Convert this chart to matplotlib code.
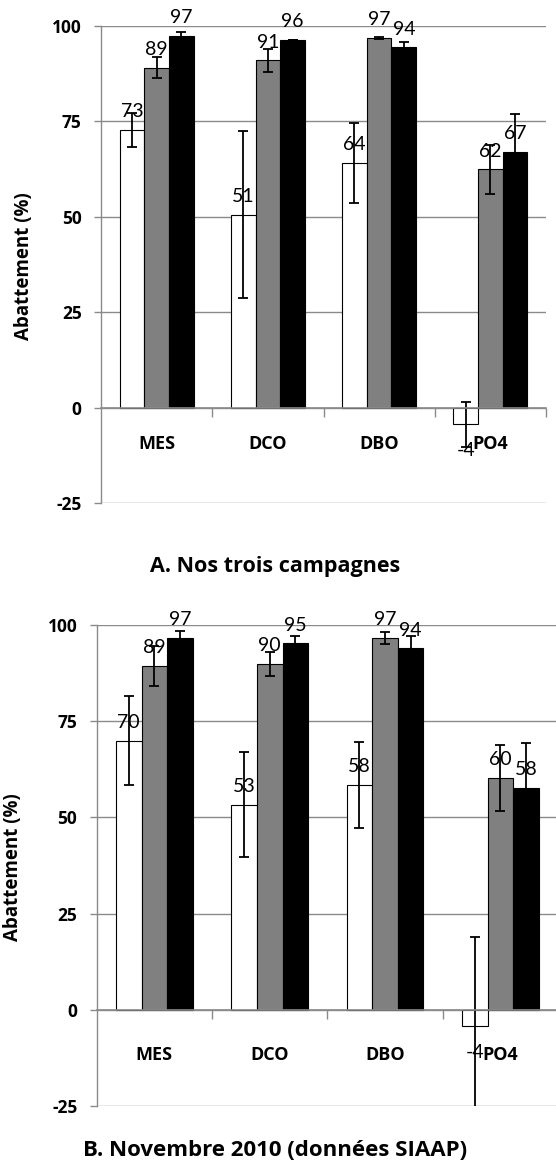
import matplotlib
matplotlib.use("Agg")
import matplotlib.pyplot as plt
import numpy as np

plt.rcParams['font.family'] = ['Lato', 'DejaVu Sans']
BOLD = ['Open Sans', 'DejaVu Sans']

categories = ["MES", "DCO", "DBO", "PO4"]

# A. Nos trois campagnes
a_white = [72.7, 50.6, 64.1, -4.4]
a_white_err = [4.5, 21.9, 10.6, 5.8]
a_gray = [89.1, 91.0, 96.8, 62.4]
a_gray_err = [2.8, 3.0, 0.3, 6.3]
a_black = [97.4, 96.4, 94.4, 67.0]
a_black_err = [1.0, 0.0, 1.4, 10.0]

# B. Novembre 2010 (donnees SIAAP)
b_white = [69.9, 53.3, 58.4, -4.1]
b_white_err = [11.6, 13.6, 11.2, 23.0]
b_gray = [89.4, 89.9, 96.6, 60.2]
b_gray_err = [5.2, 3.2, 1.5, 8.6]
b_black = [96.7, 95.2, 93.9, 57.7]
b_black_err = [1.8, 2.0, 3.3, 11.7]

yticks = [-25, 0, 25, 50, 75, 100]

GRID = "#8a8a8a"
W, H = 556, 1165


def draw_panel(ax, series, cat_pad):
    x = np.arange(len(categories))
    w = 1 / 4.5
    colors = ["white", "#808080", "black"]
    for i, (vals, errs) in enumerate(series):
        pos = x + (i - 1) * w
        ax.bar(pos, vals, w, color=colors[i], edgecolor="black", linewidth=0.8, zorder=3)
        ax.errorbar(pos, vals, yerr=errs, fmt="none", ecolor="black",
                    elinewidth=1.3, capsize=3.5, capthick=1.3, zorder=4)
        for p, v in zip(pos, vals):
            if v >= 0:
                ax.annotate(f"{v:.0f}", (p, v), xytext=(0, 7), textcoords="offset points",
                            ha="center", va="bottom", fontsize=14, zorder=5)
            else:
                ax.annotate(f"{v:.0f}", (p, v), xytext=(0, -13), textcoords="offset points",
                            ha="center", va="top", fontsize=14, zorder=5)

    ax.set_xlim(-0.5, len(categories) - 0.5)
    ax.set_ylim(-25, 100)
    ax.set_yticks(yticks)
    ax.set_yticklabels([str(t) for t in yticks], fontweight="bold", fontsize=12.5, family=BOLD)
    ax.yaxis.grid(True, color=GRID, linewidth=1.0, zorder=0)
    ax.set_axisbelow(True)

    ax.spines["top"].set_visible(False)
    ax.spines["right"].set_visible(False)
    ax.spines["left"].set_color(GRID)
    ax.spines["left"].set_linewidth(1.0)
    ax.spines["bottom"].set_position(("data", 0))
    ax.spines["bottom"].set_color(GRID)
    ax.spines["bottom"].set_linewidth(1.2)
    ax.spines["bottom"].set_zorder(6)

    ax.set_xticks(x)
    ax.set_xticklabels(categories, fontweight="bold", fontsize=13, family=BOLD)
    ax.set_xticks(np.arange(len(categories)) + 0.5, minor=True)
    ax.tick_params(axis="x", which="major", length=0, pad=cat_pad)
    ax.tick_params(axis="x", which="minor", length=6.5, width=1.0, color=GRID, direction="out")
    ax.tick_params(axis="y", length=5, width=1.0, color=GRID, pad=9)

    ax.set_ylabel("Abattement (%)", fontweight="bold", fontsize=13.5, family=BOLD)


fig = plt.figure(figsize=(W / 100, H / 100), dpi=100)

axA = fig.add_axes([101 / W, 1 - 503 / H, (546 - 101) / W, (503 - 26) / H])
draw_panel(axA, [(a_white, a_white_err), (a_gray, a_gray_err), (a_black, a_black_err)],
           cat_pad=20)
axA.yaxis.set_label_coords(34 / W, 1 - 266 / H, transform=fig.transFigure)

axB = fig.add_axes([96.7 / W, 1 - 1106 / H, (558 - 96.7) / W, (1106 - 625) / H])
draw_panel(axB, [(b_white, b_white_err), (b_gray, b_gray_err), (b_black, b_black_err)],
           cat_pad=26)
axB.yaxis.set_label_coords(23 / W, 1 - 867 / H, transform=fig.transFigure)

fig.text(275 / W, 1 - 567 / H, "A. Nos trois campagnes", ha="center", va="center",
         fontsize=15.5, fontweight="bold", family=BOLD)
fig.text(275 / W, 1 - 1151 / H, "B. Novembre 2010 (données SIAAP)", ha="center", va="center",
         fontsize=16, fontweight="bold", family=BOLD)

fig.savefig("out.png", dpi=100)
